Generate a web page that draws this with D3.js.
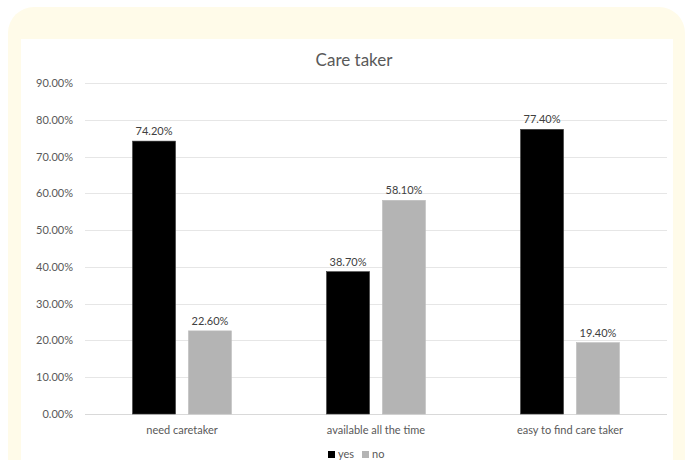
<!DOCTYPE html>
<html>
<head>
<meta charset="utf-8">
<script src="https://cdn.jsdelivr.net/npm/d3@7"></script>
<style>
  html, body { margin: 0; padding: 0; background: #ffffff; }
  svg { display: block; }
</style>
</head>
<body>
<svg id="chart" width="691" height="460"></svg>
<script>
// Chart data
const categories = ["need caretaker", "available all the time", "easy to find care taker"];
const seriesNames = ["yes", "no"];
const yesValues = [74.2, 38.7, 77.4];
const noValues = [22.6, 58.1, 19.4];
const yTicks = [0, 10, 20, 30, 40, 50, 60, 70, 80, 90];
const titleText = "Care taker";

const seriesValues = [yesValues, noValues];
const seriesColors = ["#000000", "#b4b4b4"];

const svg = d3.select("#chart");
const W = 691, H = 460;
const font = "Lato, 'Open Sans', sans-serif";

// Cream frame with rounded corners and a white chart panel inside
svg.append("rect")
  .attr("x", 8).attr("y", 7).attr("width", 677).attr("height", H + 40)
  .attr("rx", 26).attr("ry", 26)
  .attr("fill", "#fffbe9");
svg.append("rect")
  .attr("x", 21).attr("y", 39).attr("width", 652).attr("height", H - 39)
  .attr("fill", "#ffffff");

const plot = { left: 85, right: 667, top: 83, bottom: 414 };

const y = d3.scaleLinear().domain([0, 90]).range([plot.bottom, plot.top]);
const x0 = d3.scaleBand().domain(categories).range([plot.left, plot.right]).padding(0);
const x1 = d3.scaleBand().domain(seriesNames).range([0, x0.bandwidth()])
  .paddingInner(0.232).paddingOuter(0.85);

// Gridlines
svg.append("g").selectAll("line")
  .data(yTicks)
  .join("line")
  .attr("x1", plot.left).attr("x2", plot.right)
  .attr("y1", d => Math.round(y(d)) + 0.5).attr("y2", d => Math.round(y(d)) + 0.5)
  .attr("stroke", d => d === 0 ? "#d9d9d9" : "#e6e6e6")
  .attr("stroke-width", 1);

// Y axis labels
const yAxis = d3.axisLeft(y).tickValues(yTicks).tickSize(0).tickPadding(12)
  .tickFormat(d => d.toFixed(2) + "%");
const yg = svg.append("g").attr("transform", `translate(${plot.left},0)`).call(yAxis);
yg.select(".domain").remove();
yg.selectAll("text")
  .attr("font-family", font).attr("font-size", 11).attr("fill", "#595959");

// Bars
const groups = svg.append("g").selectAll("g")
  .data(categories)
  .join("g")
  .attr("transform", d => `translate(${x0(d)},0)`);

groups.selectAll("rect")
  .data((c, i) => seriesNames.map((s, j) => ({ s, v: seriesValues[j][i], j })))
  .join("rect")
  .attr("x", d => x1(d.s))
  .attr("y", d => y(d.v))
  .attr("width", x1.bandwidth())
  .attr("height", d => y(0) - y(d.v))
  .attr("fill", d => seriesColors[d.j])
  .attr("stroke", d => d.j === 0 ? "#3a3a3a" : "#bdbdbd")
  .attr("stroke-width", 0.6);

// Value labels
groups.selectAll("text")
  .data((c, i) => seriesNames.map((s, j) => ({ s, v: seriesValues[j][i], j })))
  .join("text")
  .attr("x", d => x1(d.s) + x1.bandwidth() / 2)
  .attr("y", d => y(d.v) - 6)
  .attr("text-anchor", "middle")
  .attr("font-family", font).attr("font-size", 11).attr("fill", "#404040")
  .text(d => d.v.toFixed(2) + "%");

// Category labels
const xAxis = d3.axisBottom(x0).tickSize(0).tickPadding(12);
const xg = svg.append("g").attr("transform", `translate(0,${plot.bottom})`).call(xAxis);
xg.select(".domain").remove();
xg.selectAll("text")
  .attr("font-family", font).attr("font-size", 11).attr("fill", "#595959");

// Title
svg.append("text")
  .attr("x", 354).attr("y", 66)
  .attr("text-anchor", "middle")
  .attr("font-family", font).attr("font-size", 17).attr("fill", "#595959")
  .text(titleText);

// Legend
const legendX = [328, 362];
const legend = svg.append("g").selectAll("g")
  .data(seriesNames)
  .join("g")
  .attr("transform", (d, i) => `translate(${legendX[i]},450)`);
legend.append("rect")
  .attr("width", 7).attr("height", 7).attr("y", 1)
  .attr("fill", (d, i) => seriesColors[i]);
legend.append("text")
  .attr("x", 10).attr("y", 8)
  .attr("font-family", font).attr("font-size", 11).attr("fill", "#595959")
  .text(d => d);
</script>
</body>
</html>
